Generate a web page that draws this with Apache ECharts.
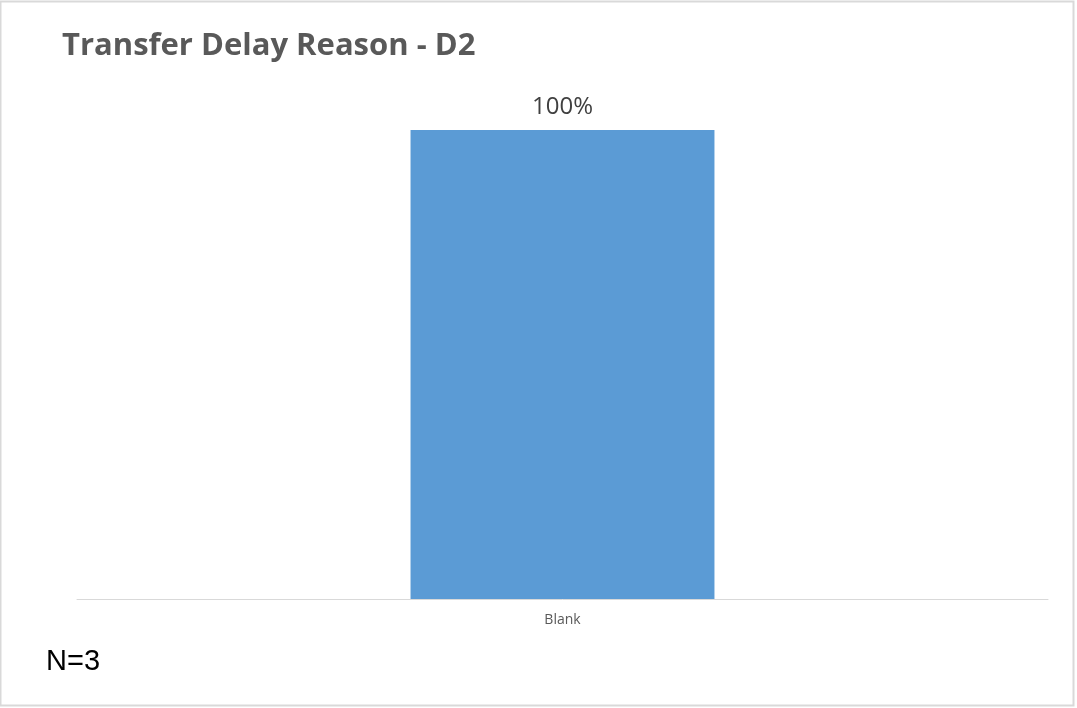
<!DOCTYPE html>
<html>
<head>
<meta charset="utf-8">
<script src="https://cdn.jsdelivr.net/npm/echarts@6/dist/echarts.min.js"></script>
<style>
  html, body { margin: 0; padding: 0; background: #fff; }
  #main { width: 1077px; height: 708px; }
</style>
</head>
<body>
<div id="main"></div>
<script>
  // data
  var categories = ['Blank'];
  var shares = [1.0];
  var sampleNote = 'N=3';

  var chart = echarts.init(document.getElementById('main'));
  chart.setOption({
    backgroundColor: '#fff',
    title: {
      text: 'Transfer Delay Reason - D2',
      left: 57,
      top: 26,
      textStyle: { fontFamily: 'Open Sans', fontWeight: 'bold', fontSize: 31, color: '#595959' }
    },
    grid: { left: 77, right: 29, top: 130, bottom: 109 },
    xAxis: {
      type: 'category',
      data: categories,
      axisLine: { lineStyle: { color: '#D9D9D9', width: 1 } },
      axisTick: { show: false },
      axisLabel: { color: '#595959', fontSize: 14, fontFamily: 'Open Sans', margin: 14 }
    },
    yAxis: {
      type: 'value',
      min: 0,
      max: 1,
      show: false
    },
    series: [{
      type: 'bar',
      data: shares,
      barWidth: '31.3%',
      itemStyle: { color: '#5B9BD5' },
      label: {
        show: true,
        position: 'top',
        distance: 11,
        fontSize: 24,
        fontFamily: 'Open Sans',
        color: '#404040',
        formatter: function (p) { return Math.round(p.value * 100) + '%'; }
      }
    }],
    graphic: [
      {
        type: 'rect',
        shape: { x: 0.5, y: 1.5, width: 1073, height: 704 },
        style: { fill: null, stroke: '#D9D9D9', lineWidth: 2 },
        silent: true
      },
      {
        type: 'text',
        left: 46,
        top: 647,
        style: { text: sampleNote, fontSize: 29, fontFamily: 'Liberation Sans', fill: '#000' }
      }
    ]
  });
</script>
</body>
</html>
